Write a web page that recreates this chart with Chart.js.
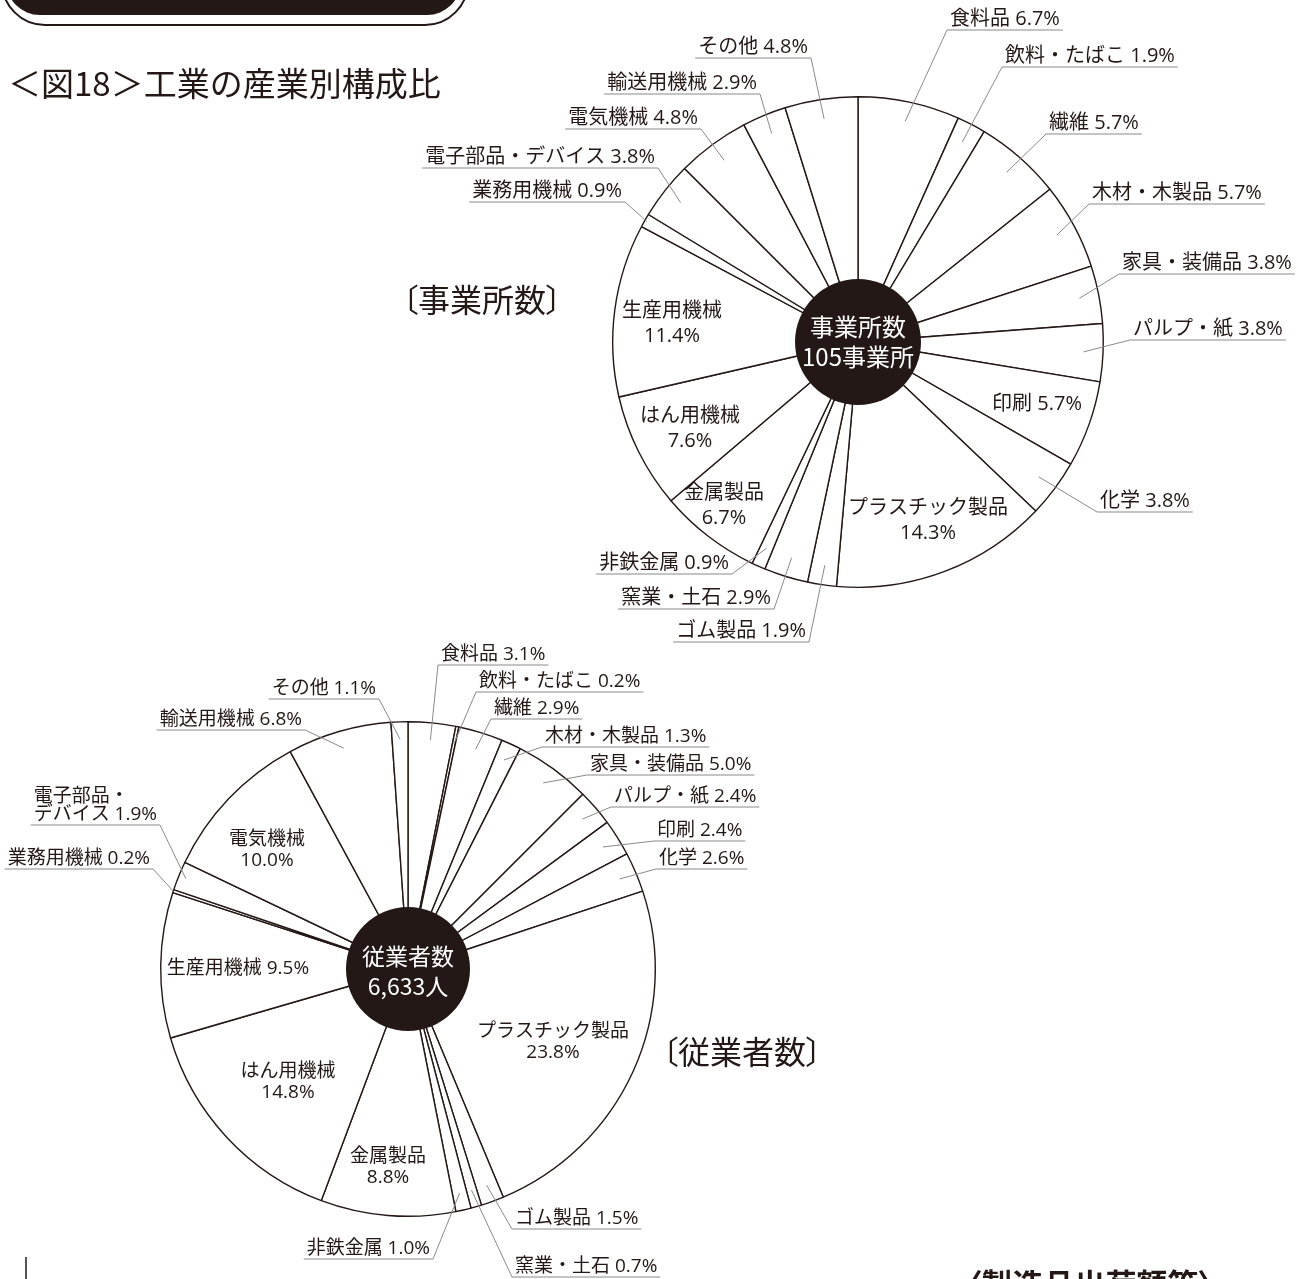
<!DOCTYPE html>
<html lang="ja">
<head>
<meta charset="utf-8">
<title>工業の産業別構成比</title>
<script src="https://cdn.jsdelivr.net/npm/chart.js@4.4.1/dist/chart.umd.min.js"></script>
<style>
  html, body { margin: 0; padding: 0; background: #fff; }
  body { position: relative; width: 1306px; height: 1279px; overflow: hidden; font-family: "Noto Sans CJK JP", sans-serif; color: #231815; }
  canvas { position: absolute; left: 0; top: 0; }
  .txt { position: absolute; white-space: nowrap; line-height: 1; }
  #banner { position: absolute; left: 6px; top: -60px; width: 455px; height: 75px; background: #231815; border-radius: 0 0 34px 34px; }
  #bannerLine { position: absolute; left: 1px; top: -60px; width: 464px; height: 82px; border: 2px solid #231815; border-radius: 0 0 44px 44px; }
  #title { left: 8px; top: 66px; font-size: 33px; }
  .panel { font-size: 32px; font-feature-settings: "palt"; }
  #panelTop { left: 402px; top: 282px; }
  #panelBottom { left: 662px; top: 1034px; }
  #source { left: 966px; top: 1267px; font-size: 31px; font-weight: bold; font-feature-settings: "palt"; }
  #mark { position: absolute; left: 25px; top: 1257px; width: 2px; height: 22px; background: #555; }
</style>
</head>
<body>
<div id="bannerLine"></div>
<div id="banner"></div>
<canvas id="topPie" width="1306" height="1279"></canvas>
<canvas id="bottomPie" width="1306" height="1279"></canvas>
<div class="txt" id="title">＜図18＞工業の産業別構成比</div>
<div class="txt panel" id="panelTop">〔事業所数〕</div>
<div class="txt panel" id="panelBottom">〔従業者数〕</div>
<div class="txt" id="source">〈製造品出荷額等〉</div>
<div id="mark"></div>
<script>
const W = 1306, H = 1279;

const categories = ['食料品', '飲料・たばこ', '繊維', '木材・木製品', '家具・装備品', 'パルプ・紙', '印刷', '化学',
    'プラスチック製品', 'ゴム製品', '窯業・土石', '非鉄金属', '金属製品', 'はん用機械', '生産用機械',
    '業務用機械', '電子部品・デバイス', '電気機械', '輸送用機械', 'その他'];
const establishmentShares = [6.7, 1.9, 5.7, 5.7, 3.8, 3.8, 5.7, 3.8, 14.3, 1.9, 2.9, 0.9, 6.7, 7.6, 11.4, 0.9, 3.8, 4.8, 2.9, 4.8];
const employeeShares = [3.1, 0.2, 2.9, 1.3, 5.0, 2.4, 2.4, 2.6, 23.8, 1.5, 0.7, 1.0, 8.8, 14.8, 9.5, 0.2, 1.9, 10.0, 6.8, 1.1];
const establishmentHub = ['事業所数', '105事業所'];
const employeeHub = ['従業者数', '6,633人'];

const INK = '#231815';
const GUIDE = '#8a8a8a';

// label placement (layout only): 'in' inside the slice, 'R' text starts at x, 'L' text ends at x
const topLabelPos = [
    { side: 'R', x: 950, y: 18 },
    { side: 'R', x: 1005, y: 55 },
    { side: 'R', x: 1049, y: 122 },
    { side: 'R', x: 1092, y: 192 },
    { side: 'R', x: 1122, y: 262 },
    { side: 'R', x: 1133, y: 328 },
    { side: 'in', x: 1037, y: 403, oneLine: true },
    { side: 'R', x: 1100, y: 500 },
    { side: 'in', x: 928, y: 507 },
    { side: 'L', x: 806, y: 630 },
    { side: 'L', x: 771, y: 597 },
    { side: 'L', x: 729, y: 562 },
    { side: 'in', x: 724, y: 492 },
    { side: 'in', x: 690, y: 415 },
    { side: 'in', x: 672, y: 310 },
    { side: 'L', x: 622, y: 190, r: 0.99 },
    { side: 'L', x: 655, y: 156 },
    { side: 'L', x: 698, y: 117 },
    { side: 'L', x: 757, y: 82 },
    { side: 'L', x: 808, y: 46 }
];
const bottomLabelPos = [
    { side: 'R', x: 441, y: 653 },
    { side: 'R', x: 479, y: 680 },
    { side: 'R', x: 494, y: 707 },
    { side: 'R', x: 545, y: 735 },
    { side: 'R', x: 590, y: 763 },
    { side: 'R', x: 614, y: 795 },
    { side: 'R', x: 657, y: 829 },
    { side: 'R', x: 659, y: 857 },
    { side: 'in', x: 553, y: 1030 },
    { side: 'R', x: 515, y: 1217 },
    { side: 'R', x: 515, y: 1265 },
    { side: 'L', x: 430, y: 1247 },
    { side: 'in', x: 388, y: 1155 },
    { side: 'in', x: 288, y: 1070 },
    { side: 'in', x: 238, y: 967, oneLine: true },
    { side: 'L', x: 150, y: 857, r: 1.0 },
    { side: 'L', x: 157, y: 813, r: 0.97, split: 5 },
    { side: 'in', x: 267, y: 838 },
    { side: 'L', x: 302, y: 718 },
    { side: 'L', x: 376, y: 687 }
];

function pctText(v) {
    return v.toFixed(1) + '%';
}

const sliceLabels = {
    id: 'sliceLabels',
    afterDatasetsDraw(chart, args, opts) {
        const ctx = chart.ctx;
        const arcs = chart.getDatasetMeta(0).data;
        const values = chart.data.datasets[0].data;
        const fs = opts.fontSize;
        const base = fs * 0.37;
        ctx.save();

        const hub = arcs[0].getProps(['x', 'y'], true);
        ctx.fillStyle = INK;
        ctx.beginPath();
        ctx.arc(hub.x, hub.y, opts.hubRadius, 0, Math.PI * 2);
        ctx.fill();
        ctx.fillStyle = '#ffffff';
        ctx.textAlign = 'center';
        ctx.textBaseline = 'alphabetic';
        ctx.font = opts.hubFont + 'px "Noto Sans CJK JP"';
        opts.hubText.forEach((t, k) => {
            ctx.fillText(t, hub.x, hub.y + opts.hubDy[k] + opts.hubFont * 0.37);
        });

        ctx.font = fs + 'px "Open Sans", "Noto Sans CJK JP"';
        ctx.fillStyle = INK;
        opts.pos.forEach((p, i) => {
            const name = categories[i];
            const pct = pctText(values[i]);
            if (p.side === 'in') {
                ctx.textAlign = 'center';
                if (p.oneLine) {
                    ctx.fillText(name + ' ' + pct, p.x, p.y + base);
                } else {
                    ctx.fillText(name, p.x, p.y + base);
                    ctx.fillText(pct, p.x, p.y + opts.lineGap + base);
                }
                return;
            }
            const lines = p.split ? [name.slice(0, p.split), name.slice(p.split) + ' ' + pct] : [name + ' ' + pct];
            const w = Math.max(...lines.map(l => ctx.measureText(l).width));
            const left = p.side === 'R' ? p.x : p.x - w;
            ctx.textAlign = 'left';
            lines.forEach((l, k) => {
                ctx.fillText(l, left, p.y - (lines.length - 1 - k) * opts.splitGap + base);
            });

            const uy = p.y + opts.underline;
            ctx.strokeStyle = GUIDE;
            ctx.lineWidth = 1.2;
            ctx.beginPath();
            ctx.moveTo(left - 3, uy);
            ctx.lineTo(left + w + 3, uy);
            ctx.stroke();

            const a = arcs[i].getProps(['x', 'y', 'startAngle', 'endAngle', 'outerRadius'], true);
            const mid = (a.startAngle + a.endAngle) / 2;
            const r = a.outerRadius * (p.r || opts.leaderDepth);
            ctx.lineWidth = 1;
            ctx.beginPath();
            ctx.moveTo(p.side === 'R' ? left - 3 : left + w + 3, uy);
            ctx.lineTo(a.x + Math.cos(mid) * r, a.y + Math.sin(mid) * r);
            ctx.stroke();
        });
        ctx.restore();
    }
};

function makePie(canvasId, values, cx, cy, radius, labelOpts) {
    return new Chart(document.getElementById(canvasId), {
        type: 'pie',
        data: {
            labels: categories,
            datasets: [{
                data: values,
                backgroundColor: '#ffffff',
                borderColor: INK,
                borderWidth: 1.4
            }]
        },
        options: {
            responsive: false,
            animation: false,
            events: [],
            layout: {
                padding: { left: cx - radius, top: cy - radius, right: W - cx - radius, bottom: H - cy - radius }
            },
            plugins: {
                legend: { display: false },
                tooltip: { enabled: false },
                sliceLabels: labelOpts
            }
        },
        plugins: [sliceLabels]
    });
}

makePie('topPie', establishmentShares, 858, 342, 246, {
    pos: topLabelPos, fontSize: 20, lineGap: 25, underline: 12, splitGap: 18, leaderDepth: 0.92,
    hubRadius: 63, hubFont: 24, hubText: establishmentHub, hubDy: [-15, 15]
});
makePie('bottomPie', employeeShares, 408, 969, 248, {
    pos: bottomLabelPos, fontSize: 19, lineGap: 21, underline: 12, splitGap: 18, leaderDepth: 0.93,
    hubRadius: 62, hubFont: 23, hubText: employeeHub, hubDy: [-13, 17]
});
</script>
</body>
</html>
